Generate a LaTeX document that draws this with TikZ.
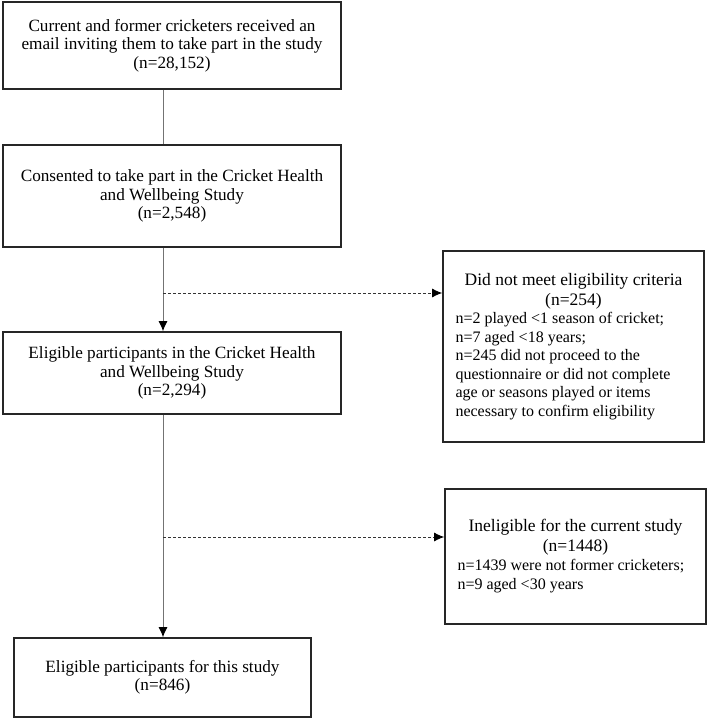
\documentclass[tikz,border=0pt]{standalone}
\usepackage{fontspec}
\setmainfont{Liberation Serif}
\usetikzlibrary{arrows.meta}

\begin{document}
\begin{tikzpicture}[x=1bp,y=-1bp,
  box/.style={draw=black!85,line width=1.6bp,inner sep=0pt,align=center,
    font=\fontsize{17.2bp}{18.5bp}\selectfont},
  sidebox/.style={box,align=left,font=\fontsize{17.5bp}{20bp}\selectfont},
  link/.style={draw=black!55,line width=1bp},
  tip/.style={-{Latex[length=10bp,width=9bp,color=black]}},
  exclude/.style={draw=black!80,line width=0.9bp,dash pattern=on 3bp off 2bp,tip}]
\useasboundingbox (0,0) rectangle (709,719);
\coordinate (axis) at (163,0);

\node[box,minimum width=338bp,minimum height=87bp] at (172,45.5) (invited)
  {Current and former cricketers received an\\email inviting them to take part in the study\\(n=28,152)};
\node[box,minimum width=338bp,minimum height=102bp] at (172,196) (consent)
  {Consented to take part in the Cricket Health\\and Wellbeing Study\\(n=2,548)};
\node[box,minimum width=338bp,minimum height=82bp] at (172,373) (eligible)
  {Eligible participants in the Cricket Health\\and Wellbeing Study\\(n=2,294)};
\node[box,minimum width=297bp,minimum height=79bp] at (162.5,677.5) (final)
  {Eligible participants for this study\\(n=846)};

\node[sidebox,minimum width=261bp,minimum height=191bp] at (573.5,346.5) (notmet)
  {\parbox{236bp}{\centering Did not meet eligibility criteria\\(n=254)\par
   \fontsize{16bp}{18.5bp}\selectfont\raggedright n=2 played <1 season of cricket;\\n=7 aged <18 years;\\n=245 did not proceed to the\\questionnaire or did not complete\\age or seasons played or items\\necessary to confirm eligibility}};
\node[sidebox,minimum width=261bp,minimum height=135bp] at (575.5,556.5) (inelig)
  {\parbox{236bp}{\centering Ineligible for the current study\\(n=1448)\par
   \fontsize{16bp}{19bp}\selectfont\raggedright n=1439 were not former cricketers;\\n=9 aged <30 years}};

\coordinate (split1) at (163,293);
\coordinate (split2) at (163,537);

\draw[link] (invited.south -| axis) -- (consent.north -| axis);
\draw[link,tip] (consent.south -| axis) -- (eligible.north -| axis);
\draw[link,tip] (eligible.south -| axis) -- (final.north -| axis);
\draw[exclude] (split1) -- (split1 -| notmet.west);
\draw[exclude] (split2) -- (split2 -| inelig.west);
\end{tikzpicture}
\end{document}
